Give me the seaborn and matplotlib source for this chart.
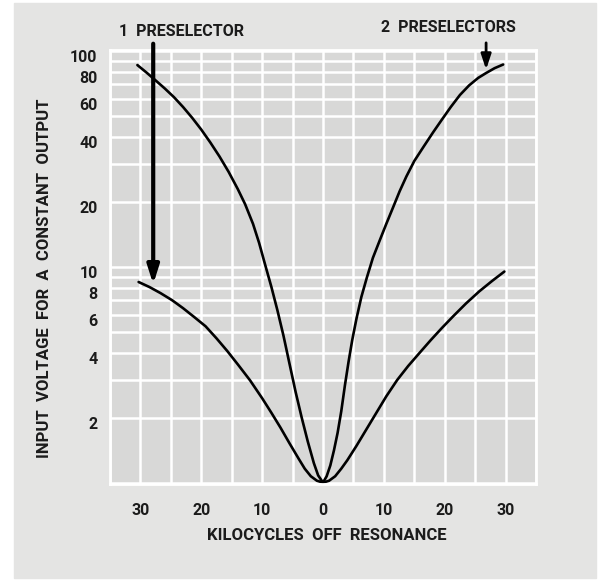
import numpy as np
import pandas as pd
import matplotlib
matplotlib.use("Agg")
import matplotlib.pyplot as plt
import matplotlib.transforms as mtransforms
from matplotlib.patches import Rectangle
import seaborn as sns

# readings: kc off resonance vs input voltage
one_x = [-30.3, -28.5, -26.7, -24.8, -23.0, -21.2, -19.3, -17.5, -15.7, -13.9,
         -12.0, -10.0, -8.5, -7.0, -5.5, -4.0, -3.0, -2.0, -1.0, 0.0,
         1.0, 2.0, 3.0, 4.0, 5.5, 7.0, 8.7, 10.4, 12.2, 14.0,
         15.9, 17.7, 19.5, 21.4, 23.5, 25.7, 27.8, 29.8]
one_y = [8.5, 8.05, 7.55, 7.0, 6.43, 5.86, 5.3, 4.66, 4.06, 3.5,
         2.98, 2.46, 2.11, 1.8, 1.52, 1.29, 1.16, 1.07, 1.02, 1.0,
         1.02, 1.07, 1.16, 1.27, 1.48, 1.74, 2.09, 2.51, 2.99, 3.47,
         4.0, 4.57, 5.19, 5.9, 6.76, 7.7, 8.6, 9.5]

two_x = [-30.5, -29.0, -27.5, -26.0, -24.5, -23.0, -21.5, -20.0, -18.5, -17.0,
         -15.5, -14.0, -12.8, -11.5, -10.5, -9.5, -8.5, -7.5, -6.5, -5.5,
         -4.5, -3.5, -2.5, -1.5, -0.8, 0.0, 0.6, 1.2, 1.8, 2.4,
         3.0, 3.6, 4.2, 4.8, 5.5, 6.3, 7.2, 8.2, 9.3, 10.4,
         11.5, 12.6, 13.7, 15.0, 16.5, 18.1, 19.5, 21.0, 22.5, 24.0,
         25.5, 26.8, 28.2, 29.6]
two_y = [86, 79.4, 73, 67, 61.1, 55, 49, 43.2, 37.6, 32.4,
         27.5, 22.9, 19.5, 15.8, 12.9, 10.2, 8.1, 6.3, 4.8, 3.55,
         2.63, 2.0, 1.55, 1.23, 1.08, 1.0, 1.07, 1.2, 1.41, 1.7,
         2.14, 2.82, 3.63, 4.57, 5.75, 7.24, 8.9, 11.0, 13.2, 15.8,
         18.8, 22.4, 26.2, 30.9, 35.9, 42, 47.9, 55, 62.5, 69.2,
         75, 79, 83.2, 86.5]

x_ticks = [-30, -20, -10, 0, 10, 20, 30]
x_labels = ["30", "20", "10", "0", "10", "20", "30"]
y_ticks = [2, 4, 6, 8, 10, 20, 40, 60, 80, 100]
y_labels = ["2", "4", "6", "8", "10", "20", "40", "60", "80", "100"]

sns.set_style("darkgrid", rc={"axes.facecolor": "#d8d8d7", "grid.color": "white"})
plt.rcParams["font.family"] = ["Roboto", "DejaVu Sans"]
ink = "#1b1b1b"

fig = plt.figure(figsize=(6, 5.8), dpi=100)
fig.patch.set_facecolor("white")
fig.patches.append(Rectangle((14/600, 2/580), 582/600, 575/580, transform=fig.transFigure,
                             color="#e4e4e3", zorder=-10))
ax = fig.add_axes([110/600, 1 - 484/580, 426/600, 434/580])

df1 = pd.DataFrame({"kc": one_x, "v": one_y})
df2 = pd.DataFrame({"kc": two_x, "v": two_y})
for d in (df1, df2):
    sns.lineplot(data=d, x="kc", y="v", ax=ax, color="black", lw=1.9, estimator=None,
                 solid_joinstyle="round", solid_capstyle="round")

ax.set_yscale("log")
ax.set_xlim(-35, 35)
ax.set_ylim(0.985, 101)
ax.set_xticks(x_ticks, x_labels)
ax.set_xticks(np.arange(-35, 36, 5), minor=True)
ax.set_yticks(y_ticks, y_labels)
minor_y = [m * d for d in (1, 10) for m in range(1, 10)] + [100]
ax.set_yticks(minor_y, minor=True)
ax.yaxis.set_minor_formatter(plt.NullFormatter())
ax.grid(which="both", color="white", lw=1.8)
ax.tick_params(which="both", length=0)
ax.tick_params(axis="x", pad=14, labelsize=11.5, labelcolor=ink)
ax.tick_params(axis="y", pad=9, labelsize=11.5, labelcolor=ink)
for lab in ax.get_xticklabels() + ax.get_yticklabels():
    lab.set_fontweight("bold")
off = mtransforms.ScaledTranslation(0, -4/72, fig.dpi_scale_trans)
for lab in ax.get_yticklabels():
    lab.set_transform(lab.get_transform() + off)
for s in ax.spines.values():
    s.set_visible(True)
    s.set_color("white")
    s.set_linewidth(2)

ax.set_xlabel("KILOCYCLES  OFF  RESONANCE", fontsize=12, fontweight="bold", color=ink)
ax.set_ylabel("INPUT  VOLTAGE  FOR  A  CONSTANT  OUTPUT", fontsize=12, fontweight="bold", color=ink)
ax.xaxis.set_label_coords(0.509, -0.101)
ax.yaxis.set_label_coords(-0.136, 0.475)

# arrows pointing at each curve
ax.annotate("", xy=(-27.9, 8.3), xytext=(-27.9, 108), xycoords="data",
            arrowprops=dict(arrowstyle="-|>,head_length=1.1,head_width=0.35", color="black",
                            lw=3, shrinkA=0, shrinkB=0), annotation_clip=False)
ax.annotate("", xy=(26.8, 82), xytext=(26.8, 109), xycoords="data",
            arrowprops=dict(arrowstyle="-|>,head_length=0.9,head_width=0.3", color="black",
                            lw=2, shrinkA=0, shrinkB=0), annotation_clip=False)
fig.text(181/600, 1 - 31/580, "1  PRESELECTOR", ha="center", va="center",
         fontsize=11.5, fontweight="bold", color=ink)
fig.text(448/600, 1 - 28/580, "2  PRESELECTORS", ha="center", va="center",
         fontsize=11.5, fontweight="bold", color=ink)

fig.savefig("out.png", dpi=100)
